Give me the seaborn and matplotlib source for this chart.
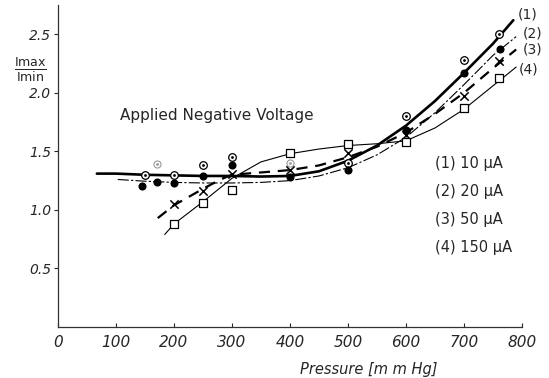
import numpy as np
import pandas as pd
import matplotlib
matplotlib.use("Agg")
import matplotlib.pyplot as plt
import seaborn as sns

# measured points: pressure [mm Hg] vs Imax/Imin
p1 = [150, 200, 250, 300, 500, 600, 700, 760]
r1 = [1.30, 1.30, 1.38, 1.45, 1.40, 1.80, 2.28, 2.50]
p1_faint = [170, 400]
r1_faint = [1.39, 1.40]

p2 = [145, 170, 200, 250, 300, 400, 500, 600, 700, 762]
r2 = [1.20, 1.24, 1.23, 1.29, 1.38, 1.28, 1.34, 1.68, 2.17, 2.37]

p3 = [200, 250, 300, 400, 500, 600, 700, 760]
r3 = [1.05, 1.16, 1.31, 1.34, 1.49, 1.64, 1.97, 2.27]

p4 = [200, 250, 300, 400, 500, 600, 700, 760]
r4 = [0.88, 1.06, 1.17, 1.49, 1.56, 1.58, 1.87, 2.13]

# hand drawn curves
c1_p = [67, 100, 150, 200, 250, 300, 350, 400, 450, 500, 550, 600, 650, 700, 750, 785]
c1_r = [1.31, 1.31, 1.30, 1.295, 1.29, 1.29, 1.285, 1.29, 1.33, 1.42, 1.55, 1.72, 1.93, 2.17, 2.42, 2.62]

c2_p = [103, 150, 200, 250, 300, 350, 400, 450, 500, 550, 600, 650, 700, 750, 790]
c2_r = [1.26, 1.245, 1.235, 1.23, 1.23, 1.235, 1.25, 1.29, 1.36, 1.47, 1.62, 1.83, 2.07, 2.32, 2.48]

c3_p = [172, 200, 250, 280, 300, 350, 400, 450, 500, 550, 600, 650, 700, 750, 790]
c3_r = [0.93, 1.04, 1.18, 1.26, 1.30, 1.32, 1.34, 1.38, 1.45, 1.54, 1.66, 1.82, 2.00, 2.21, 2.37]

c4_p = [184, 200, 250, 300, 350, 400, 450, 500, 550, 600, 650, 700, 750, 790]
c4_r = [0.79, 0.88, 1.07, 1.27, 1.41, 1.48, 1.52, 1.55, 1.565, 1.59, 1.70, 1.86, 2.06, 2.22]

legend_lines = ["(1) 10 µA", "(2) 20 µA", "(3) 50 µA", "(4) 150 µA"]
x_ticks = [0, 100, 200, 300, 400, 500, 600, 700, 800]
y_ticks = [0.5, 1.0, 1.5, 2.0, 2.5]

sns.set_style("ticks")
plt.rcParams["font.family"] = ["DejaVu Sans"]

fig = plt.figure(figsize=(5.49, 3.78), dpi=100)
ax = fig.add_axes([58 / 549, 51 / 378, 464 / 549, 322 / 378])

k = "black"
sns.lineplot(x=c1_p, y=c1_r, ax=ax, color=k, lw=1.9)
sns.lineplot(x=c2_p, y=c2_r, ax=ax, color=k, lw=0.8).lines[-1].set_dashes([10, 2, 2, 2])
sns.lineplot(x=c3_p, y=c3_r, ax=ax, color=k, lw=1.6).lines[-1].set_dashes([5, 3.5])
sns.lineplot(x=c4_p, y=c4_r, ax=ax, color=k, lw=0.8)

sns.scatterplot(x=p1, y=r1, ax=ax, marker="o", s=30, facecolor="white", edgecolor=k, linewidth=0.9, zorder=5)
sns.scatterplot(x=p1, y=r1, ax=ax, marker="o", s=4, color=k, linewidth=0, zorder=6)
sns.scatterplot(x=p1_faint, y=r1_faint, ax=ax, marker="o", s=26, facecolor="white", edgecolor="#999999", linewidth=0.8, zorder=5)
sns.scatterplot(x=p1_faint, y=r1_faint, ax=ax, marker="o", s=4, color="#999999", linewidth=0, zorder=6)
sns.scatterplot(x=p2, y=r2, ax=ax, marker="o", s=34, color=k, linewidth=0, zorder=5)
sns.scatterplot(x=p3, y=r3, ax=ax, marker="x", s=36, color=k, linewidth=1.1, zorder=5)
sns.scatterplot(x=p4, y=r4, ax=ax, marker="s", s=30, facecolor="white", edgecolor=k, linewidth=0.9, zorder=5)

ax.set_xlim(0, 800)
ax.set_ylim(0, 2.75)
ax.set_xticks(x_ticks)
ax.set_yticks(y_ticks)
ax.set_xticklabels([str(t) for t in x_ticks], fontsize=11, style="italic")
ax.set_yticklabels([f"{t:.1f}" for t in y_ticks], fontsize=10, style="italic")
ax.tick_params(axis="x", direction="in", length=3, width=0.8, pad=6)
ax.tick_params(axis="y", direction="out", length=3, width=0.8, pad=2)
sns.despine(ax=ax)
for s in ("left", "bottom"):
    ax.spines[s].set_linewidth(0.9)
    ax.spines[s].set_color("#333333")

ax.set_xlabel("Pressure [m m Hg]", fontsize=10.5, style="italic")
ax.xaxis.set_label_coords(0.67, -0.11)
ax.set_ylabel("")
fig.text(30 / 549, 1 - 70 / 378, r"$\frac{\mathrm{Imax}}{\mathrm{Imin}}$", fontsize=13,
         ha="center", va="center")

ax.text(107, 1.81, "Applied Negative Voltage", fontsize=11, ha="left", va="center")

for i, t in enumerate(legend_lines):
    ax.text(650, 1.40 - i * 0.24, t, fontsize=10.5, ha="left", va="center")

for i, (xx, yy) in enumerate([(792, 2.67), (802, 2.51), (802, 2.37), (795, 2.20)]):
    ax.text(xx, yy, f"({i + 1})", fontsize=10, ha="left", va="center", clip_on=False)

fig.savefig("out.png", dpi=100)
